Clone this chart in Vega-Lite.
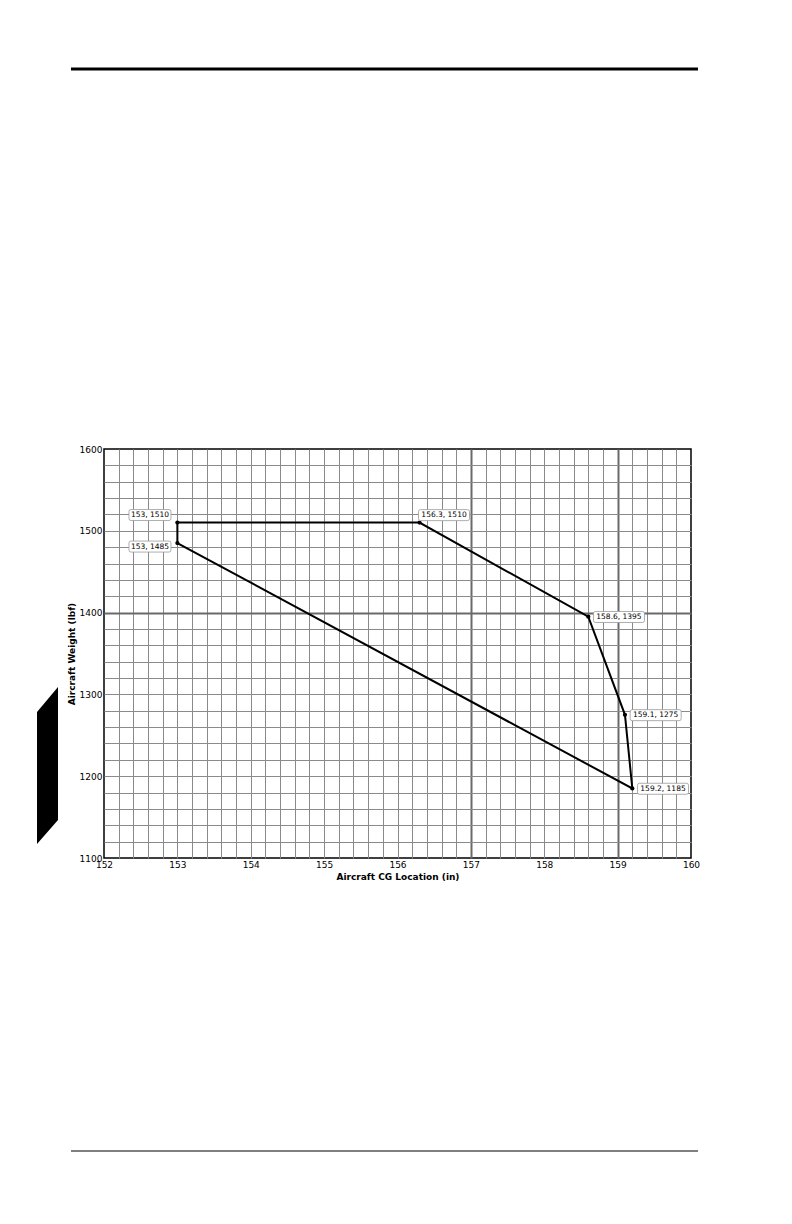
{
  "$schema": "https://vega.github.io/schema/vega-lite/v6.json",
  "width": 587,
  "height": 409,
  "autosize": {"type": "none"},
  "padding": {"left": 104, "top": 449, "right": 101, "bottom": 366},
  "background": "white",
  "config": {"view": {"stroke": "black", "strokeWidth": 1.5}, "font": "DejaVu Sans"},
  "datasets": {
    "envelope": [
      {"seq": 1, "cg": 153, "weight": 1510, "label": "153, 1510"},
      {"seq": 2, "cg": 156.3, "weight": 1510, "label": "156.3, 1510"},
      {"seq": 3, "cg": 158.6, "weight": 1395, "label": "158.6, 1395"},
      {"seq": 4, "cg": 159.1, "weight": 1275, "label": "159.1, 1275"},
      {"seq": 5, "cg": 159.2, "weight": 1185, "label": "159.2, 1185"},
      {"seq": 6, "cg": 153, "weight": 1485, "label": "153, 1485"},
      {"seq": 7, "cg": 153, "weight": 1510, "label": ""}
    ],
    "pagerules": [
      {"kind": "top", "cg": 151.55, "cg2": 160.095, "weight": 2064.5},
      {"kind": "bottom", "cg": 151.55, "cg2": 160.095, "weight": 741.8}
    ],
    "tab": [
      {"cg": 151.087, "weight": 1117.1, "weight2": 1278.5},
      {"cg": 151.373, "weight": 1146.5, "weight2": 1309.0}
    ]
  },
  "encoding": {
    "x": {
      "field": "cg", "type": "quantitative",
      "scale": {"domain": [152, 160], "nice": false, "zero": false},
      "axis": {
        "title": "Aircraft CG Location (in)",
        "values": [152,152.2,152.4,152.6,152.8,153,153.2,153.4,153.6,153.8,154,154.2,154.4,154.6,154.8,155,155.2,155.4,155.6,155.8,156,156.2,156.4,156.6,156.8,157,157.2,157.4,157.6,157.8,158,158.2,158.4,158.6,158.8,159,159.2,159.4,159.6,159.8,160],
        "tickCount": 200,
        "labelExpr": "datum.value % 1 == 0 ? format(datum.value, 'd') : ''",
        "labelFlush": false,
        "labelOverlap": false,
        "ticks": false,
        "domain": false,
        "grid": true,
        "gridColor": {"condition": {"test": "datum.value == 157 || datum.value == 159", "value": "#6a6a6a"}, "value": "#8a8a8a"},
        "gridWidth": {"condition": {"test": "datum.value == 157 || datum.value == 159", "value": 2}, "value": 1},
        "gridOpacity": {"condition": {"test": "datum.value == 152 || datum.value == 160", "value": 0}, "value": 1},
        "labelFont": "DejaVu Sans", "labelFontSize": 9, "labelColor": "black", "labelPadding": 2,
        "titleFont": "DejaVu Sans", "titleFontSize": 9, "titleFontWeight": "bold", "titleColor": "black", "titlePadding": 3
      }
    },
    "y": {
      "field": "weight", "type": "quantitative",
      "scale": {"domain": [1100, 1600], "nice": false, "zero": false},
      "axis": {
        "title": "Aircraft Weight (lbf)",
        "values": [1100,1120,1140,1160,1180,1200,1220,1240,1260,1280,1300,1320,1340,1360,1380,1400,1420,1440,1460,1480,1500,1520,1540,1560,1580,1600],
        "tickCount": 200,
        "labelExpr": "datum.value % 100 == 0 ? format(datum.value, 'd') : ''",
        "labelOverlap": false,
        "labelFlush": false,
        "ticks": false,
        "domain": false,
        "grid": true,
        "gridColor": {"condition": {"test": "datum.value == 1400", "value": "#6a6a6a"}, "value": "#8a8a8a"},
        "gridWidth": {"condition": {"test": "datum.value == 1400", "value": 2}, "value": 1},
        "gridOpacity": {"condition": {"test": "datum.value == 1100 || datum.value == 1600", "value": 0}, "value": 1},
        "labelFont": "DejaVu Sans", "labelFontSize": 9, "labelColor": "black", "labelPadding": 2,
        "titleFont": "DejaVu Sans", "titleFontSize": 9, "titleFontWeight": "bold", "titleColor": "black", "titlePadding": 3
      }
    }
  },
  "layer": [
    {
      "data": {"name": "envelope"},
      "mark": {"type": "line", "color": "black", "strokeWidth": 2, "strokeJoin": "miter"},
      "encoding": {"order": {"field": "seq", "type": "quantitative"}}
    },
    {
      "data": {"name": "envelope"},
      "transform": [{"filter": "datum.seq < 7"}],
      "mark": {"type": "point", "filled": true, "color": "black", "opacity": 1, "size": 18}
    },
    {
      "data": {"name": "envelope"},
      "transform": [{"filter": "datum.seq == 1"}],
      "mark": {"type": "point", "shape": "M-0.905,-0.262 L0.905,-0.262 Q1,-0.262 1,-0.167 L1,0.167 Q1,0.262 0.905,0.262 L-0.905,0.262 Q-1,0.262 -1,0.167 L-1,-0.167 Q-1,-0.262 -0.905,-0.262 Z", "size": 1764, "filled": true, "fill": "white", "stroke": "#999999", "strokeWidth": 0.8, "opacity": 1, "xOffset": -27.4, "yOffset": -7.6}
    },
    {
      "data": {"name": "envelope"},
      "transform": [{"filter": "datum.seq == 1"}],
      "mark": {"type": "text", "font": "DejaVu Sans", "fontSize": 7.5, "color": "black", "align": "center", "baseline": "middle", "dx": -27.4, "dy": -7.3},
      "encoding": {"text": {"field": "label"}}
    },
    {
      "data": {"name": "envelope"},
      "transform": [{"filter": "datum.seq == 6"}],
      "mark": {"type": "point", "shape": "M-0.905,-0.262 L0.905,-0.262 Q1,-0.262 1,-0.167 L1,0.167 Q1,0.262 0.905,0.262 L-0.905,0.262 Q-1,0.262 -1,0.167 L-1,-0.167 Q-1,-0.262 -0.905,-0.262 Z", "size": 1764, "filled": true, "fill": "white", "stroke": "#999999", "strokeWidth": 0.8, "opacity": 1, "xOffset": -27.4, "yOffset": 3.5}
    },
    {
      "data": {"name": "envelope"},
      "transform": [{"filter": "datum.seq == 6"}],
      "mark": {"type": "text", "font": "DejaVu Sans", "fontSize": 7.5, "color": "black", "align": "center", "baseline": "middle", "dx": -27.4, "dy": 3.8},
      "encoding": {"text": {"field": "label"}}
    },
    {
      "data": {"name": "envelope"},
      "transform": [{"filter": "datum.seq == 2"}],
      "mark": {"type": "point", "shape": "M-0.922,-0.216 L0.922,-0.216 Q1,-0.216 1,-0.138 L1,0.138 Q1,0.216 0.922,0.216 L-0.922,0.216 Q-1,0.216 -1,0.138 L-1,-0.138 Q-1,-0.216 -0.922,-0.216 Z", "size": 2601, "filled": true, "fill": "white", "stroke": "#999999", "strokeWidth": 0.8, "opacity": 1, "xOffset": 24.5, "yOffset": -7.5}
    },
    {
      "data": {"name": "envelope"},
      "transform": [{"filter": "datum.seq == 2"}],
      "mark": {"type": "text", "font": "DejaVu Sans", "fontSize": 7.5, "color": "black", "align": "center", "baseline": "middle", "dx": 24.5, "dy": -7.2},
      "encoding": {"text": {"field": "label"}}
    },
    {
      "data": {"name": "envelope"},
      "transform": [{"filter": "datum.seq >= 3 && datum.seq <= 5"}],
      "mark": {"type": "point", "shape": "M-0.922,-0.216 L0.922,-0.216 Q1,-0.216 1,-0.138 L1,0.138 Q1,0.216 0.922,0.216 L-0.922,0.216 Q-1,0.216 -1,0.138 L-1,-0.138 Q-1,-0.216 -0.922,-0.216 Z", "size": 2601, "filled": true, "fill": "white", "stroke": "#999999", "strokeWidth": 0.8, "opacity": 1, "xOffset": 30.7, "yOffset": 0.3}
    },
    {
      "data": {"name": "envelope"},
      "transform": [{"filter": "datum.seq >= 3 && datum.seq <= 5"}],
      "mark": {"type": "text", "font": "DejaVu Sans", "fontSize": 7.5, "color": "black", "align": "center", "baseline": "middle", "dx": 30.7, "dy": 0.6},
      "encoding": {"text": {"field": "label"}}
    },
    {
      "data": {"name": "pagerules"},
      "transform": [{"filter": "datum.kind == 'top'"}],
      "mark": {"type": "rule", "color": "black", "strokeWidth": 3},
      "encoding": {"x2": {"field": "cg2"}}
    },
    {
      "data": {"name": "pagerules"},
      "transform": [{"filter": "datum.kind == 'bottom'"}],
      "mark": {"type": "rule", "color": "#555555", "strokeWidth": 1.5},
      "encoding": {"x2": {"field": "cg2"}}
    },
    {
      "data": {"name": "tab"},
      "mark": {"type": "area", "color": "black", "opacity": 1},
      "encoding": {"y2": {"field": "weight2"}}
    }
  ]
}
